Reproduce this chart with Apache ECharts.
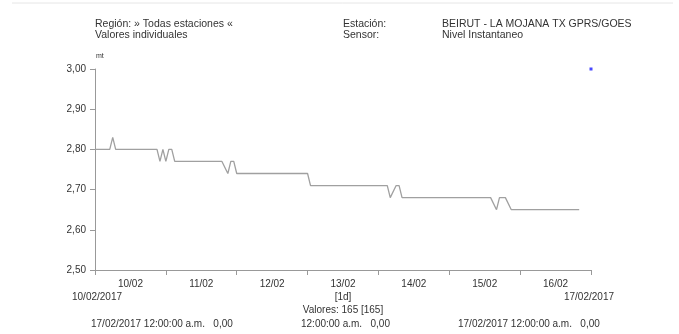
<!DOCTYPE html>
<html>
<head>
<meta charset="utf-8">
<script src="https://cdn.jsdelivr.net/npm/echarts@6/dist/echarts.min.js"></script>
<style>
html, body { margin: 0; padding: 0; background: #fff; }
#chart { width: 679px; height: 334px; }
</style>
</head>
<body>
<div id="chart"></div>
<script>
// horas desde 10/02/2017 00:00 y nivel (mt)
var hours = [0, 5, 6, 7, 21, 22, 23, 24, 25, 26, 27, 43, 45, 46, 47, 48, 72, 73,
	99, 100, 102, 103, 104, 134, 136, 137, 139, 141, 164];
var levels = [2.80, 2.80, 2.83, 2.80, 2.80, 2.77, 2.80, 2.77, 2.80, 2.80, 2.77,
	2.77, 2.74, 2.77, 2.77, 2.74, 2.74, 2.71,
	2.71, 2.68, 2.71, 2.71, 2.68, 2.68, 2.65, 2.68, 2.68, 2.65, 2.65];
// punto aislado (azul)
var pointHour = [168];
var pointLevel = [3.00];
var days = ['10/02', '11/02', '12/02', '13/02', '14/02', '15/02', '16/02'];
var yTicks = [2.5, 3.0, 0.1];

var font = 'Liberation Sans, Arial, sans-serif';
var txt = '#333';

function txtAt(x, y, text, align, size) {
	return {
		type: 'text', x: x, y: y,
		style: {
			text: text, fill: txt, font: (size || 10) + 'px ' + font,
			align: align || 'left', verticalAlign: 'middle'
		}
	};
}

var single = echarts.init(document.getElementById('chart'));

var option = {
	animation: false,
	grid: { left: 95, right: 88, top: 69, bottom: 64 },
	xAxis: [
		{
			type: 'value', min: 0, max: 168, interval: 24,
			axisLine: { lineStyle: { color: '#999', width: 1 } },
			axisTick: { show: true, length: 5, lineStyle: { color: '#999' } },
			axisLabel: { show: false },
			splitLine: { show: false }
		},
		{
			type: 'category', data: days, boundaryGap: true, position: 'bottom',
			axisLine: { show: false }, axisTick: { show: false },
			axisLabel: { color: txt, fontSize: 10, fontFamily: font, margin: 9 },
			splitLine: { show: false }
		}
	],
	yAxis: {
		type: 'value', min: yTicks[0], max: yTicks[1], interval: yTicks[2],
		axisLine: { show: true, lineStyle: { color: '#999' } },
		axisTick: { show: true, length: 5, lineStyle: { color: '#999' } },
		axisLabel: {
			color: txt, fontSize: 10, fontFamily: font, margin: 9,
			formatter: function (v) { return v.toFixed(2).replace('.', ','); }
		},
		splitLine: { show: false }
	},
	series: [
		{
			type: 'line', xAxisIndex: 0,
			data: hours.map(function (h, i) { return [h, levels[i]]; }),
			showSymbol: false, symbol: 'none',
			lineStyle: { color: '#a0a0a0', width: 1.3 }
		},
		{
			type: 'scatter', xAxisIndex: 0,
			data: pointHour.map(function (h, i) { return [h, pointLevel[i]]; }),
			symbol: 'rect', symbolSize: 3,
			itemStyle: { color: '#1a1aff' }
		}
	],
	graphic: [
		{ type: 'line', shape: { x1: 12, y1: 3, x2: 673, y2: 3 }, style: { stroke: '#e6e6e6', lineWidth: 1 } },
		txtAt(95, 24, 'Región: » Todas estaciones «', 'left', 10.5),
		txtAt(95, 35, 'Valores individuales', 'left', 10.5),
		txtAt(343, 24, 'Estación:', 'left', 10.5),
		txtAt(343, 35, 'Sensor:', 'left', 10.5),
		txtAt(442, 24, 'BEIRUT - LA MOJANA TX GPRS/GOES', 'left', 10.5),
		txtAt(442, 35, 'Nivel Instantaneo', 'left', 10.5),
		txtAt(96, 56, 'mt', 'left', 7),
		txtAt(72, 297, '10/02/2017'),
		txtAt(614, 297, '17/02/2017', 'right'),
		txtAt(343, 297, '[1d]', 'center'),
		txtAt(343, 310, 'Valores: 165 [165]', 'center'),
		txtAt(91, 324, '17/02/2017 12:00:00 a.m.   0,00'),
		txtAt(301, 324, '12:00:00 a.m.   0,00'),
		txtAt(458, 324, '17/02/2017 12:00:00 a.m.   0,00')
	]
};

single.setOption(option);
</script>
</body>
</html>
